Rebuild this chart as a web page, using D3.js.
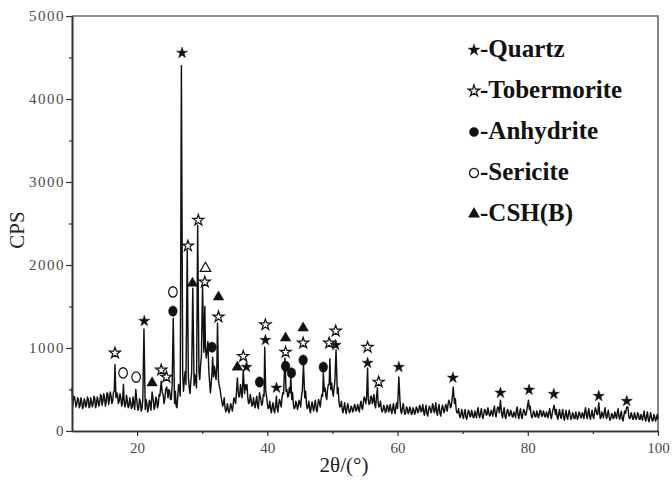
<!DOCTYPE html>
<html>
<head>
<meta charset="utf-8">
<script src="https://cdn.jsdelivr.net/npm/d3@7"></script>
<style>
  body { margin: 0; background: #fff; }
  #chart { width: 672px; height: 483px; }
  text { font-family: "Liberation Serif", "Times New Roman", serif; }
</style>
</head>
<body>
<div id="chart"></div>
<script>
// XRD scan: counts on a 0.25 deg grid from 10 to 100 deg (2theta)
const scanStart = 10;
const scanStep = 0.25;
const baseCounts = [
  520, 420, 360, 330,  380, 310, 350, 290,  360, 320, 380, 300,  350, 330, 390, 320,
  370, 340, 420, 360,  400, 350, 450, 380,  420, 360, 480, 400,  430, 360, 400, 330,
  380, 320, 360, 300,  350, 290, 340, 280,  330, 280, 350, 270,  320, 260, 330, 270,
  340, 280, 360, 300,  380, 320, 420, 350,  440, 380, 470, 400,  480, 380, 520, 330,
  300, 420, 520, 600,  700, 620, 560, 480,  520, 600, 480, 550,  600, 680, 700, 800,
  900, 950, 1000, 980, 750, 460, 700, 650,  700, 800, 600, 500,  370, 320, 280, 260,
  250, 270, 290, 320,  380, 450, 500, 420,  480, 520, 450, 500,  400, 340, 380, 310,
  330, 360, 300, 350,  380, 330, 420, 480,  330, 280, 260, 300,  250, 300, 280, 320,
  340, 400, 450, 380,  500, 420, 460, 380,  320, 280, 330, 300,  350, 420, 450, 400,
  330, 290, 260, 300,  280, 320, 270, 310,  340, 380, 420, 480,  420, 500, 560, 500,
  480, 520, 600, 450,  350, 300, 260, 280,  250, 290, 260, 240,  280, 250, 300, 260,
  270, 310, 280, 350,  380, 420, 380, 330,  420, 360, 320, 400,  350, 300, 270, 250,
  280, 240, 300, 260,  250, 280, 240, 300,  270, 300, 240, 280,  250, 220, 270, 230,
  260, 210, 250, 230,  270, 240, 290, 250,  230, 260, 210, 250,  280, 240, 300, 250,
  230, 270, 220, 250,  280, 250, 300, 320,  340, 300, 380, 330,  260, 220, 190, 210,
  180, 220, 170, 200,  230, 180, 210, 170,  200, 240, 190, 220,  180, 210, 250, 200,
  230, 190, 220, 260,  210, 240, 280, 230,  200, 230, 180, 210,  240, 190, 220, 170,
  200, 250, 190, 220,  180, 210, 240, 200,  230, 260, 200, 180,  220, 170, 210, 190,
  240, 180, 220, 170,  200, 230, 190, 210,  240, 200, 170, 210,  180, 220, 160, 200,
  170, 210, 190, 160,  200, 150, 190, 170,  210, 160, 200, 230,  190, 220, 170, 200,
  180, 220, 250, 200,  190, 160, 200, 230,  180, 210, 170, 150,  200, 160, 190, 220,
  170, 200, 150, 180,  210, 240, 180, 160,  190, 150, 180, 160,  200, 140, 170, 190,
  150, 180, 140, 170,  160, 130, 170, 150,  140
];

// counts read between the grid points (10.125, 10.375, ... 99.875)
const midCounts = [
  300, 410, 290, 400,  280, 400, 270, 390,  290, 410, 280, 400,  290, 420, 280, 410,
  300, 440, 310, 450,  300, 460, 320, 470,  330, 470, 340, 460,  330, 450, 300, 420,
  290, 430, 280, 400,  270, 410, 260, 380,  250, 390, 240, 380,  240, 380, 230, 370,
  250, 400, 260, 410,  280, 440, 300, 460,  330, 490, 340, 500,  380, 540, 360, 480,
  280, 560, 420, 700,  480, 720, 420, 650,  450, 700, 420, 680,  520, 780, 620, 900,
  820, 1050, 880, 1080, 600, 560, 620, 780, 620, 880, 540, 420,  300, 400, 230, 330,
  220, 330, 240, 400,  330, 520, 410, 560,  400, 580, 400, 560,  330, 440, 300, 400,
  280, 420, 270, 410,  310, 440, 340, 420,  270, 360, 220, 340,  220, 350, 230, 380,
  290, 460, 350, 480,  410, 520, 370, 460,  270, 360, 260, 370,  290, 480, 360, 480,
  270, 360, 220, 350,  240, 370, 230, 380,  290, 440, 350, 520,  380, 560, 470, 580,
  420, 600, 480, 520,  290, 360, 220, 340,  210, 330, 220, 300,  230, 320, 240, 320,
  230, 360, 260, 410,  330, 480, 320, 420,  330, 440, 280, 440,  290, 360, 230, 310,
  220, 310, 230, 320,  210, 330, 210, 340,  220, 360, 210, 330,  200, 290, 210, 290,
  200, 280, 200, 290,  220, 310, 230, 320,  190, 310, 180, 300,  220, 330, 220, 340,
  190, 320, 180, 310,  220, 320, 240, 370,  280, 380, 300, 390,  220, 270, 160, 260,
  150, 260, 140, 250,  170, 250, 160, 240,  160, 280, 160, 270,  150, 260, 190, 280,
  180, 250, 180, 300,  170, 290, 220, 290,  160, 280, 150, 260,  180, 250, 170, 230,
  160, 290, 150, 270,  150, 260, 190, 260,  190, 300, 160, 240,  170, 240, 160, 250,
  180, 240, 170, 230,  160, 270, 150, 260,  190, 260, 140, 260,  150, 260, 130, 250,
  140, 250, 140, 220,  150, 230, 140, 230,  160, 220, 150, 280,  150, 270, 140, 250,
  150, 280, 200, 260,  150, 230, 160, 280,  150, 250, 130, 210,  150, 230, 150, 270,
  140, 240, 120, 240,  160, 290, 150, 220,  140, 220, 140, 220,  140, 200, 130, 240,
  120, 230, 110, 220,  120, 200, 120, 200
];

// sharp reflections [2theta, counts]
const peaks = [
  [16.6, 800], [17.9, 560], [19.8, 500], [21.05, 1230], [22.3, 470], [23.7, 600],
  [24.55, 530], [25.55, 1360], [26.8, 4400], [27.7, 2180], [28.55, 1720], [29.3, 2480],
  [30.05, 1750], [30.4, 1500], [31.6, 890], [32.35, 1300], [35.4, 640], [36.3, 730],
  [36.6, 560], [38.8, 460], [39.6, 1010], [41.4, 420], [42.7, 880], [43.6, 660],
  [45.55, 800], [48.6, 700], [49.6, 870], [50.55, 980], [55.4, 760], [56.9, 520],
  [60.2, 650], [68.55, 530], [75.8, 370], [80.1, 370], [84.05, 310], [90.9, 340],
  [95.2, 290]
];

// phase labels [2theta, counts, phase]
const markers = [
  [16.6, 940, "tb"], [17.85, 700, "se"], [19.85, 650, "se"], [21.1, 1325, "qz"],
  [22.3, 580, "csh"], [23.7, 735, "tb"], [24.5, 650, "tb"], [25.5, 1675, "se"],
  [25.5, 1445, "an"], [26.9, 4555, "qz"], [27.8, 2230, "tb"], [28.5, 1780, "csh"],
  [29.4, 2540, "tb"], [30.5, 1960, "cshOpen"], [30.4, 1795, "tb"], [31.5, 1010, "an"],
  [32.5, 1615, "csh"], [32.5, 1375, "tb"], [35.4, 770, "csh"], [36.3, 900, "tb"],
  [36.8, 770, "qz"], [38.8, 590, "an"], [39.7, 1280, "tb"], [39.7, 1095, "qz"],
  [41.4, 520, "qz"], [42.8, 1120, "csh"], [42.8, 950, "tb"], [42.8, 780, "an"],
  [43.7, 700, "an"], [45.5, 1240, "csh"], [45.5, 1060, "tb"], [45.5, 855, "an"],
  [48.6, 770, "an"], [49.5, 1060, "tb"], [50.5, 1205, "tb"], [50.5, 1035, "qz"],
  [55.4, 1010, "tb"], [55.4, 820, "qz"], [57.1, 590, "tb"], [60.2, 770, "qz"],
  [68.5, 640, "qz"], [75.8, 460, "qz"], [80.2, 495, "qz"], [84.0, 445, "qz"],
  [90.9, 420, "qz"], [95.2, 360, "qz"]
];

const legendKeys = ["qz", "tb", "an", "se", "csh"];
const legendNames = ["-Quartz", "-Tobermorite", "-Anhydrite", "-Sericite", "-CSH(B)"];

const xTicks = [20, 40, 60, 80, 100];
const xMinor = [30, 50, 70, 90];
const yTicks = [0, 1000, 2000, 3000, 4000, 5000];
const yMinor = [500, 1500, 2500, 3500, 4500];

// ---- build trace
let trace = baseCounts.map((c, i) => [scanStart + i * scanStep, c])
  .concat(midCounts.map((c, i) => [scanStart + scanStep / 2 + i * scanStep, c]));
trace = trace.filter(p => !peaks.some(k => Math.abs(k[0] - p[0]) < 0.1));
trace = trace.concat(peaks).sort((a, b) => a[0] - b[0]);

const w = 672, h = 483;
const margin = { top: 16, right: 14, bottom: 52, left: 72 };

const svg = d3.select("#chart").append("svg")
  .attr("width", w)
  .attr("height", h);

const x = d3.scaleLinear().domain([10, 100]).range([margin.left, w - margin.right]);
const y = d3.scaleLinear().domain([0, 5000]).range([h - margin.bottom, margin.top]);

// frame top / right
svg.append("path")
  .attr("d", `M${x(10)},${y(5000)}H${x(100)}V${y(0)}`)
  .attr("fill", "none").attr("stroke", "#6a6a6a").attr("stroke-width", 1.6);

// trace
const line = d3.line().x(d => x(d[0])).y(d => y(d[1]));
svg.append("path")
  .datum(trace)
  .attr("d", line)
  .attr("fill", "none")
  .attr("stroke", "#111")
  .attr("stroke-width", 1.45)
  .attr("stroke-linejoin", "round");

// AXES
const serif = "'Liberation Serif', 'Times New Roman', serif";
svg.append("g")
  .attr("transform", "translate(0," + y(0) + ")")
  .call(d3.axisBottom(x).tickValues(xTicks).tickSize(5).tickPadding(6).tickSizeOuter(0));
svg.append("g")
  .attr("transform", "translate(0," + y(0) + ")")
  .call(d3.axisBottom(x).tickValues(xMinor).tickSize(3).tickFormat("").tickSizeOuter(0));

const yAxis = svg.append("g")
  .attr("transform", "translate(" + x(10) + ",0)")
  .call(d3.axisLeft(y).tickValues(yTicks).tickFormat(d3.format("d")).tickSize(6).tickPadding(1).tickSizeOuter(0));
svg.append("g")
  .attr("transform", "translate(" + x(10) + ",0)")
  .call(d3.axisLeft(y).tickValues(yMinor).tickSize(3).tickFormat("").tickSizeOuter(0));

svg.selectAll("g").attr("font-family", serif);
svg.selectAll(".domain").attr("stroke", "#333").attr("stroke-width", 1.6);
svg.selectAll(".tick line").attr("stroke", "#333").attr("stroke-width", 1.2);
svg.selectAll(".tick text")
  .attr("font-family", serif)
  .attr("font-size", 15)
  .attr("fill", "#4a4a4a");
yAxis.selectAll(".tick text").attr("letter-spacing", "1.5px");

// AXES LABELS
svg.append("text")
  .attr("x", 344).attr("y", 472)
  .attr("text-anchor", "middle")
  .style("font-size", "21px")
  .attr("fill", "#222")
  .text("2θ/(°)");

svg.append("text")
  .attr("transform", "translate(24,230) rotate(-90)")
  .attr("text-anchor", "middle")
  .style("font-size", "21px")
  .attr("fill", "#222")
  .text("CPS");

// ---- phase symbols
function symbolFor(key) {
  if (key === "qz" || key === "tb") return d3.symbol().type(d3.symbolStar).size(38)();
  if (key === "an" || key === "se") return d3.symbol().type(d3.symbolCircle).size(58)();
  return d3.symbol().type(d3.symbolTriangle).size(48)();
}
function styleSymbol(sel) {
  sel.attr("d", d => symbolFor(d.key))
    .attr("fill", d => (d.key === "tb" || d.key === "se" || d.key === "cshOpen") ? "#fff" : "#111")
    .attr("stroke", "#111")
    .attr("stroke-width", d => (d.key === "tb" || d.key === "se" || d.key === "cshOpen") ? 1.2 : 0.5);
}

svg.append("g").selectAll("path")
  .data(markers.map(m => ({ t: m[0], c: m[1], key: m[2] })))
  .join("path")
  .attr("transform", d => `translate(${x(d.t)},${y(d.c)}) scale(1,${d.key === "an" || d.key === "se" ? 1.2 : 1})`)
  .call(styleSymbol);

// ---- legend
const legend = svg.append("g").attr("transform", "translate(474,57)");
const rows = legend.selectAll("g")
  .data(legendKeys.map((k, i) => ({ key: k, name: legendNames[i], i: i })))
  .join("g")
  .attr("transform", d => "translate(0," + d.i * 41 + ")");

rows.append("path")
  .attr("transform", "translate(0,-7) scale(1.05)")
  .call(styleSymbol);

rows.append("text")
  .attr("x", 6)
  .attr("font-family", serif)
  .style("font-size", "25px")
  .style("font-weight", "bold")
  .attr("fill", "#111")
  .text(d => d.name);
</script>
</body>
</html>
